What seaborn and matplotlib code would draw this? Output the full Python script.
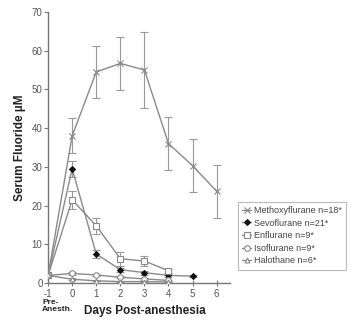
import matplotlib
matplotlib.use("Agg")
import matplotlib.pyplot as plt
import matplotlib.transforms as mtransforms
import seaborn as sns
import pandas as pd
import numpy as np

sns.set_theme(style="white")
plt.rcParams['font.family'] = ['Liberation Sans', 'DejaVu Sans']

days = [-1, 0, 1, 2, 3, 4, 5, 6]

metho_days = [-1, 0, 1, 2, 3, 4, 5, 6]
metho_vals = [2.0, 38.0, 54.5, 56.7, 55.0, 36.0, 30.3, 23.7]
metho_err = [0.0, 4.5, 6.8, 6.8, 9.8, 6.8, 6.8, 6.8]

sevo_days = [-1, 0, 1, 2, 3, 4, 5]
sevo_vals = [2.0, 29.5, 7.5, 3.5, 2.7, 2.0, 1.8]
sevo_err = [0.0, 2.0, 1.0, 0.5, 0.5, 0.3, 0.2]

enf_days = [-1, 0, 1, 2, 3, 4]
enf_vals = [2.0, 21.5, 14.8, 6.3, 5.7, 3.2]
enf_err = [0.0, 2.3, 2.0, 1.8, 1.2, 0.5]

iso_days = [-1, 0, 1, 2, 3, 4]
iso_vals = [2.0, 2.5, 2.1, 1.5, 1.1, 0.7]
iso_err = [0.0, 0.3, 0.3, 0.3, 0.3, 0.2]

halo_days = [-1, 0, 1, 2, 3, 4]
halo_vals = [2.0, 1.0, 0.6, 0.4, 0.4, 0.3]
halo_err = [0.0, 0.2, 0.1, 0.1, 0.1, 0.1]

labels = ["Methoxyflurane n=18*", "Sevoflurane n=21*", "Enflurane n=9*",
          "Isoflurane n=9*", "Halothane n=6*"]

series = [
    (metho_days, metho_vals, metho_err, labels[0], "x", "#888888", "#888888", 4),
    (sevo_days, sevo_vals, sevo_err, labels[1], "D", "#111111", "#111111", 3),
    (enf_days, enf_vals, enf_err, labels[2], "s", "white", "#888888", 4),
    (iso_days, iso_vals, iso_err, labels[3], "o", "white", "#888888", 4),
    (halo_days, halo_vals, halo_err, labels[4], "^", "white", "#888888", 3.5),
]

fig = plt.figure(figsize=(3.51, 3.30), dpi=100)
ax = fig.add_axes([0.137, 0.142, 0.518, 0.822])

line_col = "#8a8a8a"
for d, v, e, lab, mk, fc, ec, ms in series:
    df = pd.DataFrame({"day": d, "val": v})
    sns.lineplot(data=df, x="day", y="val", ax=ax, color=line_col, lw=1.0,
                 marker=mk, markersize=ms, markerfacecolor=fc,
                 markeredgecolor=ec, markeredgewidth=0.8, label=lab,
                 zorder=3)
    ax.errorbar(d, v, yerr=e, fmt="none", ecolor="#999999", elinewidth=0.8,
                capsize=3, capthick=0.8, zorder=2)

ax.set_xlim(-1, 6.55)
ax.set_ylim(0, 70)
ax.set_xticks(days)
ax.set_xticklabels([str(x) for x in days])
ax.set_yticks(range(0, 71, 10))
for s in ["top", "right"]:
    ax.spines[s].set_visible(False)
for s in ["left", "bottom"]:
    ax.spines[s].set_color("#777777")
    ax.spines[s].set_linewidth(1.0)
ax.tick_params(axis="y", direction="out", length=3, width=0.8, color="#777777",
               labelsize=7, labelcolor="#555555", pad=1, left=True)
ax.tick_params(axis="x", direction="inout", length=5, width=0.8, color="#777777",
               labelsize=7, labelcolor="#555555", pad=2, bottom=True)
ax.set_ylabel("Serum Fluoride \u00b5M", fontsize=8.5, fontweight="bold",
              color="#222222", labelpad=4)
ax.set_xlabel("Days Post-anesthesia", fontsize=8.5, fontweight="bold",
              color="#222222", labelpad=4)
ax.xaxis.set_label_coords(0.53, -0.08)
off = mtransforms.offset_copy(ax.get_xaxis_transform(), fig=fig, x=-6, y=-16, units="dots")
ax.text(-1.0, 0, "Pre-\nAnesth.", transform=off,
        ha="left", va="top", fontsize=6, fontweight="bold", color="#222222",
        linespacing=1.05)

leg = ax.legend(loc="upper left", bbox_to_anchor=(0.664, 0.403), bbox_transform=fig.transFigure,
                fontsize=6.5, frameon=True, fancybox=False, handlelength=1.0,
                handletextpad=0.3, borderpad=0.5, labelspacing=0.4)
leg.get_frame().set_edgecolor("#aaaaaa")
leg.get_frame().set_linewidth(0.8)
for t in leg.get_texts():
    t.set_color("#444444")

fig.savefig("out.png", dpi=100)
